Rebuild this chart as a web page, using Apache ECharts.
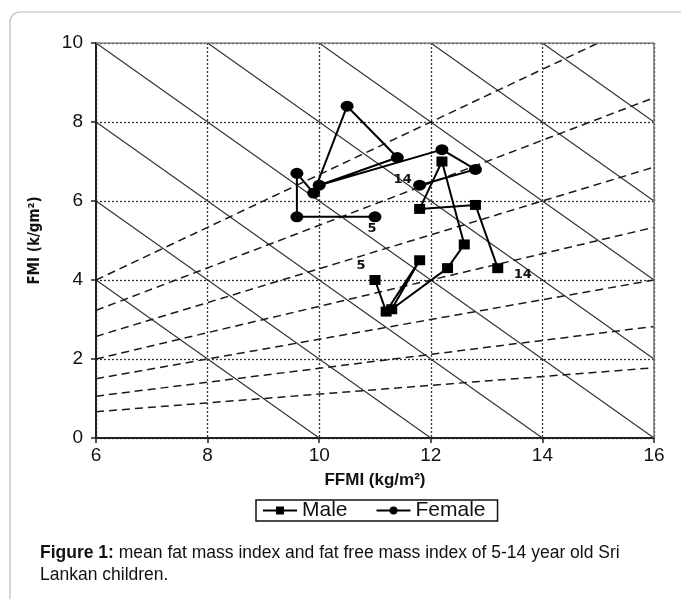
<!DOCTYPE html>
<html>
<head>
<meta charset="utf-8">
<script src="https://cdn.jsdelivr.net/npm/echarts@6/dist/echarts.min.js"></script>
<style>
html,body{margin:0;padding:0;background:#fff;}
#c{width:681px;height:599px;}
</style>
</head>
<body>
<div id="c"></div>
<script>
// ---- data ----
var ages = [5, 6, 7, 8, 9, 10, 11, 12, 13, 14];
var maleFFMI = [11.0, 11.2, 11.8, 11.3, 12.3, 12.6, 12.2, 11.8, 12.8, 13.2];
var maleFMI  = [4.0, 3.2, 4.5, 3.26, 4.3, 4.9, 7.0, 5.8, 5.9, 4.3];
var femaleFFMI = [11.0, 9.6, 9.6, 9.9, 10.5, 11.4, 10.0, 12.2, 12.8, 11.8];
var femaleFMI  = [5.6, 5.6, 6.7, 6.2, 8.4, 7.1, 6.4, 7.3, 6.8, 6.4];
// reference lines: constant total mass index (FFMI+FMI) and constant % body fat
var bmiSums = [10, 12, 14, 16, 18, 20, 22, 24];
var fatPercents = [10, 15, 20, 25, 30, 35, 40];
var xTicks = [6, 8, 10, 12, 14, 16];
var yTicks = [0, 2, 4, 6, 8, 10];

var xMin = 6, xMax = 16, yMin = 0, yMax = 10;
var series = [];

bmiSums.forEach(function (s) {
  var x0 = Math.max(xMin, s - yMax), x1 = Math.min(xMax, s - yMin);
  series.push({
    type: 'line', silent: true, symbol: 'none', z: 2,
    data: [[x0, s - x0], [x1, s - x1]],
    lineStyle: { color: '#303030', width: 1.1 }
  });
});
fatPercents.forEach(function (p) {
  var k = p / (100 - p);
  var x1 = Math.min(xMax, yMax / k);
  series.push({
    type: 'line', silent: true, symbol: 'none', z: 2,
    data: [[xMin, k * xMin], [x1, k * x1]],
    lineStyle: { color: '#1a1a1a', width: 1.5, type: [8, 5] }
  });
});
// top & right frame of the plot
series.push({
  type: 'line', silent: true, symbol: 'none', z: 3,
  data: [[xMin, yMax], [xMax, yMax], [xMax, yMin]],
  lineStyle: { color: '#777', width: 1.5 }
});

function build(xs, ys, lbl) {
  return xs.map(function (x, i) {
    var d = { value: [x, ys[i]] };
    if (i === 0 || i === xs.length - 1) {
      var o = (i === 0) ? lbl.first : lbl.last;
      d.label = {
        show: true, formatter: String(ages[i]), position: 'inside',
        offset: o, color: '#111', fontSize: 13, fontWeight: 'bold',
        fontFamily: 'DejaVu Sans'
      };
    }
    return d;
  });
}

series.push({
  name: 'Male', type: 'line', z: 5,
  symbol: 'rect', symbolSize: [11, 10],
  itemStyle: { color: '#000' },
  lineStyle: { color: '#000', width: 2 },
  data: build(maleFFMI, maleFMI, { first: [-14, -14], last: [25, 6] })
});
series.push({
  name: 'Female', type: 'line', z: 5,
  symbol: 'circle', symbolSize: [13, 11],
  itemStyle: { color: '#000' },
  lineStyle: { color: '#000', width: 2 },
  data: build(femaleFFMI, femaleFMI, { first: [-3, 12], last: [-17, -6] })
});

var chart = echarts.init(document.getElementById('c'), null, { renderer: 'canvas' });
chart.setOption({
  animation: false,
  backgroundColor: '#fff',
  grid: { left: 96, top: 43, width: 558, height: 395, containLabel: false },
  xAxis: {
    type: 'value', min: xMin, max: xMax, interval: 2,
    name: 'FFMI (kg/m²)', nameLocation: 'middle', nameGap: 34,
    nameTextStyle: { fontSize: 17, fontWeight: 'bold', color: '#111', fontFamily: 'Liberation Sans' },
    axisLine: { lineStyle: { color: '#222', width: 2 } },
    axisTick: { show: true, length: 5, lineStyle: { color: '#222', width: 1.5 } },
    axisLabel: { fontSize: 19, color: '#111', margin: 8, fontFamily: 'Liberation Sans',
      formatter: function (v) { return xTicks.indexOf(v) >= 0 ? String(v) : ''; } },
    splitLine: { show: true, lineStyle: { color: '#333', width: 1.3, type: [2, 2] } }
  },
  yAxis: {
    type: 'value', min: yMin, max: yMax, interval: 2,
    name: 'FMI (k/gm²)', nameLocation: 'middle', nameGap: 53, nameRotate: 90,
    nameTextStyle: { fontSize: 15, fontWeight: 'bold', color: '#111', fontFamily: 'Liberation Sans Narrow, DejaVu Sans Condensed, Liberation Sans' },
    axisLine: { show: true, lineStyle: { color: '#222', width: 2 } },
    axisTick: { show: true, length: 5, lineStyle: { color: '#222', width: 1.5 } },
    axisLabel: { fontSize: 19, color: '#111', margin: 13, fontFamily: 'Liberation Sans',
      formatter: function (v) { return yTicks.indexOf(v) >= 0 ? String(v) : ''; } },
    splitLine: { show: true, lineStyle: { color: '#333', width: 1.3, type: [2, 2] } }
  },
  legend: {
    data: ['Male', 'Female'],
    left: 256, top: 500,
    padding: [0, 12, 0, 6],
    itemGap: 28, itemWidth: 34, itemHeight: 10,
    borderColor: '#111', borderWidth: 1.5,
    textStyle: { fontSize: 21, color: '#111', fontFamily: 'Liberation Sans' }
  },
  graphic: [
    {
      type: 'rect', silent: true, z: -1,
      shape: { x: 10, y: 12, width: 720, height: 640, r: 10 },
      style: { fill: 'none', stroke: '#bbb', lineWidth: 1.2 }
    },
    {
      type: 'text', left: 40, top: 542,
      style: {
        text: '{b|Figure 1:} mean fat mass index and fat free mass index of 5-14 year old Sri\nLankan children.',
        fontSize: 17.5, fontFamily: 'Liberation Sans', fill: '#111', lineHeight: 22,
        rich: { b: { fontWeight: 'bold', fontSize: 17.5, fontFamily: 'Liberation Sans', fill: '#111' } }
      }
    }
  ],
  series: series
});
</script>
</body>
</html>
